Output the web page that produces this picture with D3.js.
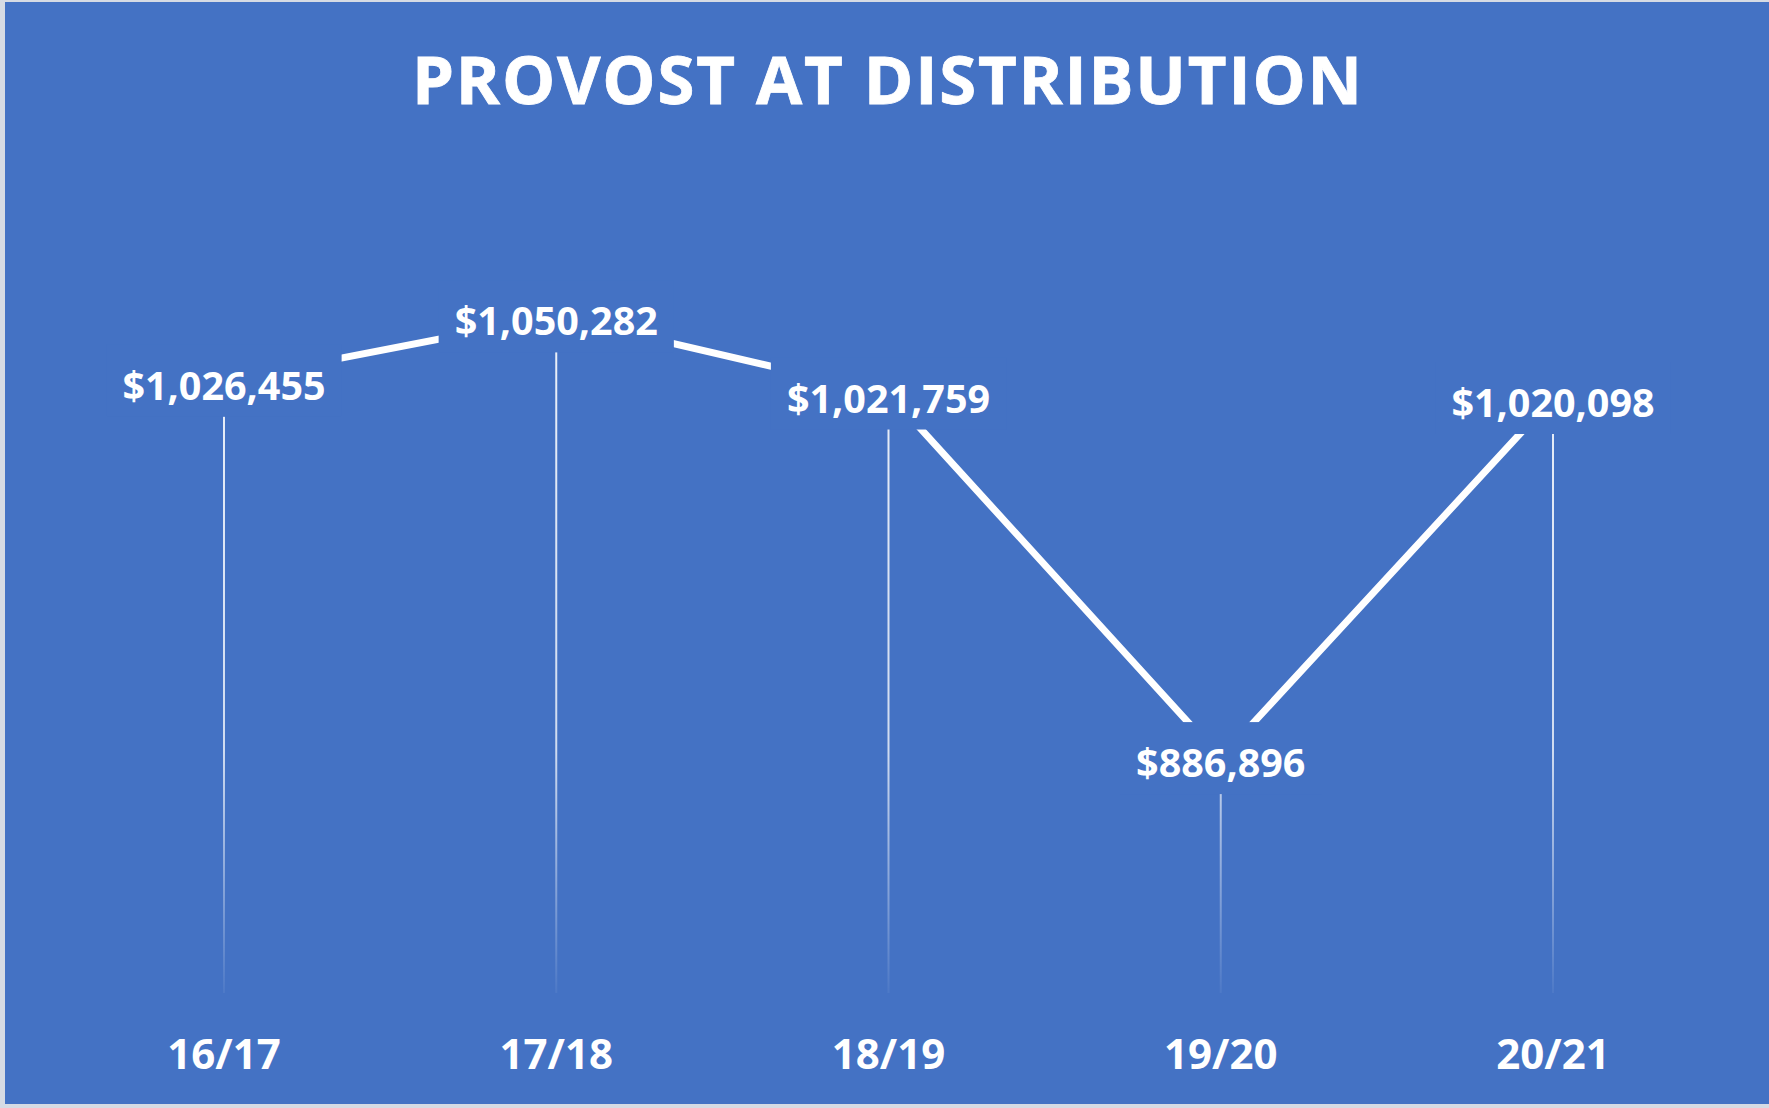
<!DOCTYPE html>
<html>
<head>
<meta charset="utf-8">
<script src="https://cdn.jsdelivr.net/npm/d3@7"></script>
<style>
  body { margin: 0; background: #d6dbe4; }
  svg { display: block; }
  text { font-family: "Open Sans", sans-serif; font-weight: 700; fill: #fff; }
</style>
</head>
<body>
<svg id="chart"></svg>
<script>
let width = 1769;
let height = 1108;

let years = ['16/17', '17/18', '18/19', '19/20', '20/21'];
let amounts = [1026455, 1050282, 1021759, 886896, 1020098];
let title = 'PROVOST AT DISTRIBUTION';

let bg = '#4472c4';
let data = years.map((y, i) => ({ year: y, value: amounts[i] }));

let xScale = d3.scalePoint()
               .domain(years)
               .range([224, 1553]);

let yScale = d3.scaleLinear()
               .domain([800000, 1100000])
               .range([993, 182]);

let money = v => '$' + d3.format(',')(v);

let svg = d3.select('#chart')
    .attr('width', width)
    .attr('height', height);

// chart area with thin light frame on the left, top and bottom
svg.append('rect')
    .attr('x', 5)
    .attr('y', 2)
    .attr('width', width - 5)
    .attr('height', height - 6)
    .attr('fill', bg);

let grad = svg.append('defs').append('linearGradient')
    .attr('id', 'drop')
    .attr('gradientUnits', 'userSpaceOnUse')
    .attr('x1', 0).attr('x2', 0)
    .attr('y1', yScale(1100000)).attr('y2', yScale(800000));
grad.append('stop').attr('offset', 0).attr('stop-color', '#fff').attr('stop-opacity', 0.95);
grad.append('stop').attr('offset', 0.7).attr('stop-color', '#fff').attr('stop-opacity', 0.75);
grad.append('stop').attr('offset', 1).attr('stop-color', '#fff').attr('stop-opacity', 0.05);

svg.append('text')
    .attr('x', 887)
    .attr('y', 104)
    .attr('text-anchor', 'middle')
    .attr('font-size', 67)
    .attr('textLength', 950)
    .attr('lengthAdjust', 'spacing')
    .attr('stroke', '#fff')
    .attr('stroke-width', 0.8)
    .text(title);

// drop lines
svg.selectAll('.drop')
  .data(data)
  .enter()
  .append('line')
    .attr('class', 'drop')
    .attr('x1', d => xScale(d.year))
    .attr('x2', d => xScale(d.year))
    .attr('y1', d => yScale(d.value))
    .attr('y2', yScale.range()[0])
    .attr('stroke', 'url(#drop)')
    .attr('stroke-width', 2);

let line = d3.line()
             .x(d => xScale(d.year))
             .y(d => yScale(d.value));

svg.append('path')
    .datum(data)
    .attr('d', line)
    .attr('fill', 'none')
    .attr('stroke', '#fff')
    .attr('stroke-width', 7);

// data labels sit on boxes that cut the lines
let labels = svg.selectAll('.label')
  .data(data)
  .enter()
  .append('g')
    .attr('class', 'label')
    .attr('transform', d => `translate(${xScale(d.year)},${yScale(d.value)})`);

labels.append('text')
    .attr('text-anchor', 'middle')
    .attr('dominant-baseline', 'central')
    .attr('dy', 4)
    .attr('font-size', 39.5)
    .text(d => money(d.value))
    .each(function() {
      let b = this.getBBox();
      d3.select(this.parentNode).insert('rect', 'text')
        .attr('x', b.x - 16)
        .attr('y', -36)
        .attr('width', b.width + 32)
        .attr('height', 72)
        .attr('fill', bg);
    });

svg.selectAll('.year')
  .data(years)
  .enter()
  .append('text')
    .attr('class', 'year')
    .attr('x', d => xScale(d))
    .attr('y', 1069)
    .attr('text-anchor', 'middle')
    .attr('font-size', 42)
    .text(d => d);
</script>
</body>
</html>
